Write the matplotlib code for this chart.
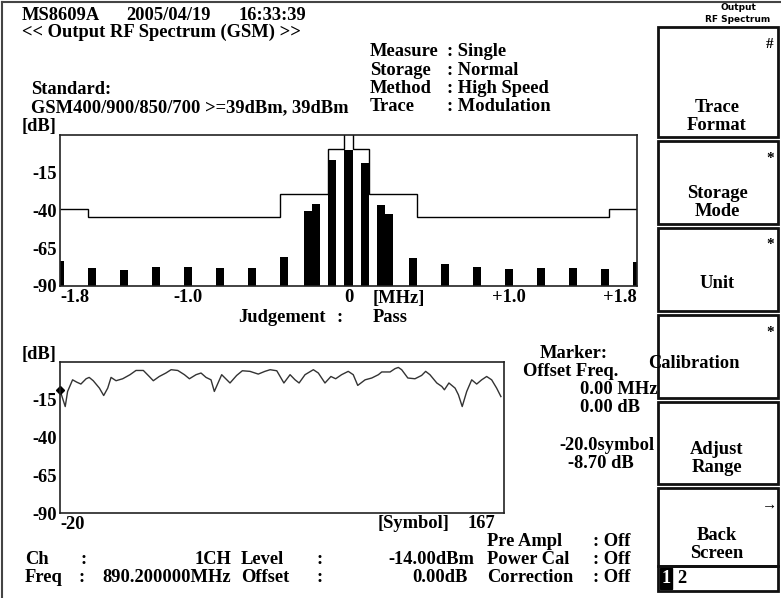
import matplotlib.pyplot as plt
from matplotlib.patches import Rectangle

# ======================
# DATA
# ======================
# top: output RF spectrum due to modulation, level per offset
offsets_mhz = [-1.8, -1.6, -1.4, -1.2, -1.0, -0.8, -0.6, -0.4, -0.25, -0.2, -0.1, 0.0,
               0.1, 0.2, 0.25, 0.4, 0.6, 0.8, 1.0, 1.2, 1.4, 1.6, 1.8]
levels_db = [-73.4, -78.1, -79.6, -77.2, -77.2, -78.0, -78.0, -71.0, -40.3, -35.9, -6.8, 0.0,
             -8.3, -36.6, -42.1, -71.6, -75.6, -77.2, -79.0, -78.0, -78.0, -79.0, -74.3]
mask_edges = [-1.8, -1.625, -0.425, -0.125, -0.025, 0.025, 0.125, 0.425, 1.625, 1.8]
mask_db = [-39, -44, -29, 0.5, 12, 0.5, -29, -44, -39]

# bottom: power vs symbol trace
symbols = [-20, -17.8, -16.8, -14.7, -13.0, -11.2, -9.0, -7.7, -6.0, -3.4, -1.6, 0.1, 1.5,
           3.6, 6.4, 9.5, 12.0, 15.1, 17.6, 19.3, 21.8, 24.6, 26.8, 29.6, 32.4, 34.5, 37.3,
           39.4, 41.5, 43.6, 45.0, 48.1, 51.6, 54.4, 56.8, 60.0, 63.5, 66.3, 68.5, 71.3,
           74.3, 76.9, 79.0, 80.7, 83.2, 86.7, 88.8, 91.6, 94.1, 96.1, 98.6, 101.4, 103.5,
           105.4, 108.5, 111.3, 114.1, 115.5, 119.0, 121.1, 122.5, 123.9, 126.5, 129.5,
           132.3, 134.0, 135.8, 138.7, 140.8, 141.9, 143.8, 146.4, 147.8, 149.4, 151.3,
           153.4, 155.5, 157.6, 159.7, 161.8, 163.9, 165.7]
trace_db = [-8.7, -19.5, -9.5, -1.8, -3.3, -4.6, -1.1, -0.2, -2.4, -7.3, -12.2, -7.3, -0.2,
            -2.4, -1.1, 1.6, 4.4, 4.4, 0.4, -2.4, 0.4, 2.7, 4.9, 4.4, 1.6, -1.1, 1.6,
            2.7, -0.2, -1.8, -9.5, 1.6, -3.9, 1.1, 4.2, 3.8, 2.0, 3.8, 4.9, 4.2,
            -3.9, 1.6, -1.8, -3.9, 1.6, 4.9, 2.7, -3.9, 0.4, -1.1, 1.6, 3.8, 1.6,
            -5.5, -1.8, -0.6, 1.6, 3.4, 3.4, 5.6, 6.4, 4.9, -0.6, -1.1,
            1.1, 3.8, 1.6, -3.9, -6.2, -8.4, -3.9, -7.3, -11.7, -19.5, -9.5,
            -1.8, -4.6, -1.8, 0.4, -1.8, -7.3, -12.9]
marker_sym, marker_db = -20.0, -8.70

ytick_vals = [-15, -40, -65, -90]

# ======================
# FIGURE
# ======================
W, H = 781, 598
fig = plt.figure(figsize=(W / 100, H / 100), dpi=100)
FONT = dict(family="Liberation Serif", weight="bold", size=13.3)

bg = fig.add_axes([0, 0, 1, 1])
bg.set_xlim(0, W)
bg.set_ylim(H, 0)
bg.axis("off")


def txt(x, y, s, ha="left", **kw):
    opts = dict(FONT)
    opts.update(kw)
    bg.text(x, y, s, ha=ha, va="center", **opts)


def px_axes(left, top, right, bottom):
    return fig.add_axes([left / W, (H - bottom) / H, (right - left) / W, (bottom - top) / H])


# screen frame
bg.plot([2, 2], [2, H], color="#444", lw=1.5)
bg.plot([2, W], [2, 2], color="#444", lw=1.5)

# header
txt(22, 15, "MS8609A")
txt(126, 15, "2005/04/19")
txt(239, 15, "16:33:39")
txt(22, 32, "<< Output RF Spectrum (GSM) >>")
txt(31, 90, "Standard:")
txt(31, 108, "GSM400/900/850/700 >=39dBm, 39dBm")
txt(22, 127, "[dB]")
for i, (k, v) in enumerate([("Measure", "Single"), ("Storage", "Normal"),
                            ("Method", "High Speed"), ("Trace", "Modulation")]):
    y = 52 + i * 18.3
    txt(370, y, k)
    txt(447, y, ": " + v)

# ======================
# TOP PLOT
# ======================
ax1 = px_axes(60, 135, 637, 286)
ax1.bar(offsets_mhz, [l + 90 for l in levels_db], width=0.05, bottom=-90, color="black")
ax1.stairs(mask_db, mask_edges, baseline=None, color="black", lw=1)
ax1.set_xlim(-1.8, 1.8)
ax1.set_ylim(-90, 10)
ax1.set_yticks(ytick_vals)
ax1.set_yticklabels([str(v) for v in ytick_vals], **FONT)
ax1.set_xticks([-1.8, -1.0, 0, 1.0, 1.8])
xl = ax1.set_xticklabels(["-1.8", "-1.0", "0", "+1.0", "+1.8"], **FONT)
xl[0].set_ha("left")
xl[-1].set_ha("right")
ax1.tick_params(length=0, pad=2)

txt(373, 298, "[MHz]")
txt(238, 317, "Judgement")
txt(336, 317, ":")
txt(373, 317, "Pass")

# ======================
# BOTTOM PLOT
# ======================
txt(22, 355, "[dB]")
ax2 = px_axes(60, 362, 504, 513)
ax2.plot(symbols, trace_db, color="#333", lw=1)
ax2.plot([marker_sym], [marker_db], marker="D", ms=4.5, color="black", clip_on=False)
ax2.set_xlim(-20, 167)
ax2.set_ylim(-90, 10)
ax2.set_yticks(ytick_vals)
ax2.set_yticklabels([str(v) for v in ytick_vals], **FONT)
ax2.set_xticks([-20])
ax2.set_xticklabels(["-20"], ha="left", **FONT)
ax2.tick_params(length=0, pad=2)
txt(378, 523, "[Symbol]")
txt(468, 523, "167")

for ax in (ax1, ax2):
    for sp in ax.spines.values():
        sp.set_color("#222")
        sp.set_linewidth(1.2)

# marker readout
txt(540, 353, "Marker:")
txt(523, 371, "Offset Freq.")
txt(580, 390, "0.00 MHz")
txt(580, 408, "0.00 dB")
txt(654, 445, "-20.0symbol", ha="right")
txt(634, 463, "-8.70 dB", ha="right")

# status lines
txt(487, 541, "Pre Ampl")
txt(593, 541, ": Off")
txt(487, 560, "Power Cal")
txt(593, 560, ": Off")
txt(487, 578, "Correction")
txt(593, 578, ": Off")
txt(25, 560, "Ch")
txt(80, 560, ":")
txt(231, 560, "1CH", ha="right")
txt(241, 560, "Level")
txt(316, 560, ":")
txt(474, 560, "-14.00dBm", ha="right")
txt(25, 578, "Freq")
txt(78, 578, ":")
txt(231, 578, "890.200000MHz", ha="right")
txt(241, 578, "Offset")
txt(316, 578, ":")
txt(468, 578, "0.00dB", ha="right")

# ======================
# SOFT KEYS
# ======================
txt(738, 8, "Output", ha="center", family="DejaVu Sans", size=6.5)
txt(738, 19, "RF Spectrum", ha="center", family="DejaVu Sans", size=6.5)
keys = [(27, 137, [("Trace", 108), ("Format", 126)], "#"),
        (141, 224, [("Storage", 194), ("Mode", 212)], "*"),
        (228, 311, [("Unit", 284)], "*"),
        (315, 398, [("Calibration", 364)], "*"),
        (402, 484, [("Adjust", 450), ("Range", 468)], ""),
        (488, 566, [("Back", 535), ("Screen", 553)], "\u2192")]
for top, bot, lines, mark in keys:
    bg.add_patch(Rectangle((658, top), 120, bot - top, fill=False, ec="#111", lw=2))
    if mark:
        txt(770, top + 17, mark, ha="center", size=11)
    for s, yy in lines:
        if s == "Calibration":
            txt(648, yy, s)
        else:
            txt(717, yy, s, ha="center")

bg.add_patch(Rectangle((658, 566), 120, 25, fill=False, ec="#111", lw=2))
bg.add_patch(Rectangle((660, 568), 12, 21, color="black"))
txt(666, 578.5, "1", ha="center", color="white")
txt(677, 578.5, "2")

plt.savefig("out.png", dpi=100)
